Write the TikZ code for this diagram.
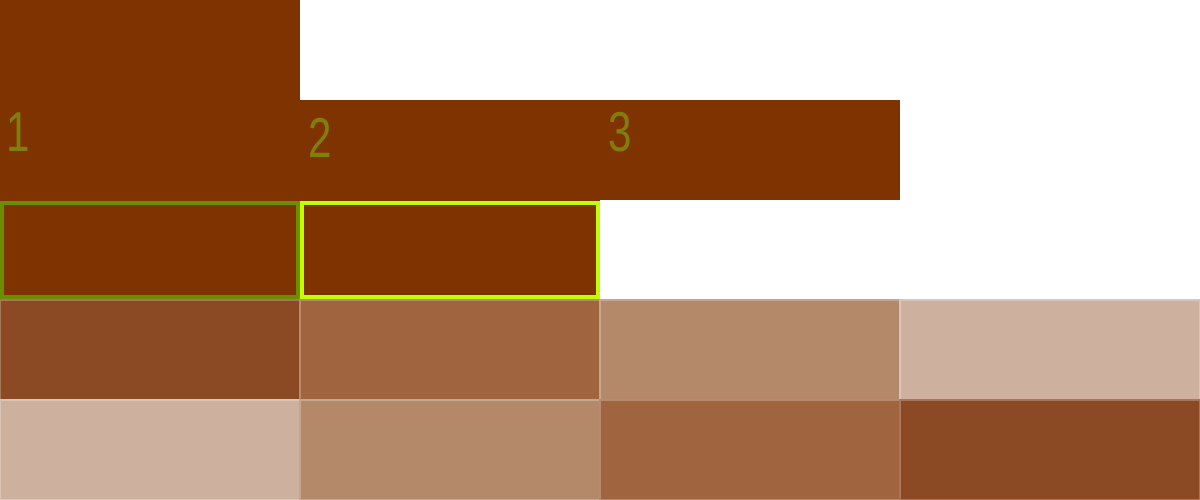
\documentclass[tikz,border=0pt]{standalone}
\usepackage{fontspec}
\setmainfont{Liberation Sans}
\definecolor{darkbrown}{HTML}{7F3300}
\definecolor{brownA}{HTML}{8B4A24}
\definecolor{brownB}{HTML}{A0643E}
\definecolor{brownC}{HTML}{B4896A}
\definecolor{brownD}{HTML}{CDB09E}
\definecolor{olivetext}{HTML}{7F7F0A}
\definecolor{greenA}{HTML}{6B8E00}
\definecolor{greenB}{HTML}{BFFF00}
\tikzset{
  cell/.style={draw=white!25!#1, line width=0.4pt, fill=#1},
  number/.style={anchor=base west, inner sep=0pt, text=olivetext,
    font=\fontsize{16}{16}\selectfont, xscale=0.75},
  selbox/.style={draw=#1, line width=1.2pt}
}
\begin{document}
\begin{tikzpicture}
  \useasboundingbox (0,0) rectangle (12,-5);
  % top rows
  \fill[darkbrown] (0,0) rectangle (3,-1);
  \fill[darkbrown] (0,-1) rectangle (9,-2);
  \fill[darkbrown] (0,-2) rectangle (6,-3);
  \node[number] (n1) at (0.06,-1.52) {1};
  \node[number] (n2) at (3.08,-1.58) {2};
  \node[number] (n3) at (6.08,-1.52) {3};
  % outlined cells
  \draw[selbox=greenA] (0.02,-2.03) rectangle (2.98,-2.97);
  \draw[selbox=greenB] (3.02,-2.03) rectangle (5.98,-2.97);
  % gradient rows
  \foreach \c [count=\i from 0] in {brownA,brownB,brownC,brownD}
    \draw[cell=\c] (3*\i,-3) rectangle ++(3,-1);
  \foreach \c [count=\i from 0] in {brownD,brownC,brownB,brownA}
    \draw[cell=\c] (3*\i,-4) rectangle ++(3,-1);
\end{tikzpicture}
\end{document}
